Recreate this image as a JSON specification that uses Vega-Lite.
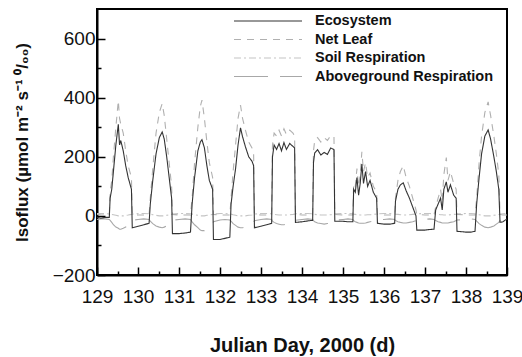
{
  "$schema": "https://vega.github.io/schema/vega-lite/v6.json",
  "width": 410,
  "height": 266,
  "autosize": "none",
  "padding": {"left": 97, "top": 9, "right": 15, "bottom": 82},
  "background": "white",
  "config": {
    "view": {"stroke": "black", "strokeWidth": 2},
    "font": "Liberation Sans",
    "axis": {
      "labelFont": "Liberation Sans",
      "labelFontSize": 19,
      "labelColor": "#111",
      "titleFont": "Liberation Sans",
      "titleFontWeight": "bold",
      "titleColor": "#111",
      "domainColor": "black",
      "domainWidth": 2,
      "tickColor": "black",
      "tickWidth": 1.5,
      "grid": false
    }
  },
  "data": {
    "values": [
      {"d":129.00,"E":-5,"L":5,"S":8,"A":-12},
      {"d":129.10,"E":-8,"L":3,"S":8,"A":-10},
      {"d":129.20,"E":-5,"L":3,"S":8,"A":-10},
      {"d":129.30,"E":-5,"L":3,"S":6,"A":-12},
      {"d":129.32,"E":60,"L":80,"S":6,"A":-15},
      {"d":129.36,"E":90,"L":120,"S":5,"A":-22},
      {"d":129.40,"E":150,"L":200,"S":4,"A":-30},
      {"d":129.46,"E":240,"L":300,"S":2,"A":-38},
      {"d":129.52,"E":310,"L":390,"S":0,"A":-42},
      {"d":129.55,"E":240,"L":330,"S":0,"A":-45},
      {"d":129.58,"E":255,"L":310,"S":0,"A":-45},
      {"d":129.64,"E":220,"L":280,"S":0,"A":-42},
      {"d":129.70,"E":170,"L":220,"S":2,"A":-38},
      {"d":129.76,"E":130,"L":170,"S":3,"A":-30},
      {"d":129.84,"E":90,"L":130,"S":5,"A":-22},
      {"d":129.86,"E":-40,"L":5,"S":6,"A":-15},
      {"d":130.00,"E":-35,"L":3,"S":8,"A":-12},
      {"d":130.14,"E":-30,"L":3,"S":8,"A":-10},
      {"d":130.27,"E":-25,"L":3,"S":7,"A":-12},
      {"d":130.30,"E":40,"L":60,"S":6,"A":-18},
      {"d":130.36,"E":120,"L":160,"S":4,"A":-26},
      {"d":130.44,"E":210,"L":280,"S":2,"A":-34},
      {"d":130.52,"E":265,"L":350,"S":0,"A":-38},
      {"d":130.59,"E":284,"L":380,"S":0,"A":-40},
      {"d":130.64,"E":260,"L":340,"S":0,"A":-38},
      {"d":130.70,"E":200,"L":260,"S":2,"A":-34},
      {"d":130.76,"E":130,"L":180,"S":3,"A":-28},
      {"d":130.82,"E":60,"L":100,"S":5,"A":-20},
      {"d":130.84,"E":-60,"L":5,"S":6,"A":-15},
      {"d":131.00,"E":-60,"L":3,"S":8,"A":-12},
      {"d":131.15,"E":-58,"L":3,"S":8,"A":-10},
      {"d":131.28,"E":-55,"L":3,"S":7,"A":-12},
      {"d":131.32,"E":40,"L":60,"S":6,"A":-20},
      {"d":131.38,"E":130,"L":180,"S":4,"A":-30},
      {"d":131.46,"E":220,"L":300,"S":2,"A":-40},
      {"d":131.52,"E":250,"L":370,"S":0,"A":-48},
      {"d":131.56,"E":258,"L":392,"S":0,"A":-50},
      {"d":131.62,"E":230,"L":330,"S":0,"A":-50},
      {"d":131.68,"E":170,"L":250,"S":2,"A":-45},
      {"d":131.74,"E":120,"L":180,"S":3,"A":-38},
      {"d":131.82,"E":90,"L":130,"S":5,"A":-28},
      {"d":131.84,"E":-80,"L":5,"S":6,"A":-20},
      {"d":132.00,"E":-80,"L":3,"S":8,"A":-14},
      {"d":132.12,"E":-76,"L":3,"S":8,"A":-12},
      {"d":132.24,"E":-72,"L":3,"S":7,"A":-14},
      {"d":132.27,"E":40,"L":60,"S":6,"A":-18},
      {"d":132.32,"E":100,"L":150,"S":4,"A":-26},
      {"d":132.38,"E":160,"L":240,"S":2,"A":-32},
      {"d":132.44,"E":240,"L":330,"S":0,"A":-38},
      {"d":132.50,"E":298,"L":375,"S":0,"A":-40},
      {"d":132.55,"E":268,"L":330,"S":0,"A":-40},
      {"d":132.62,"E":234,"L":290,"S":0,"A":-38},
      {"d":132.70,"E":200,"L":250,"S":2,"A":-32},
      {"d":132.78,"E":185,"L":230,"S":3,"A":-26},
      {"d":132.82,"E":170,"L":210,"S":4,"A":-22},
      {"d":132.84,"E":-40,"L":5,"S":6,"A":-16},
      {"d":133.00,"E":-35,"L":3,"S":8,"A":-12},
      {"d":133.14,"E":-30,"L":3,"S":8,"A":-10},
      {"d":133.26,"E":-25,"L":3,"S":7,"A":-12},
      {"d":133.28,"E":200,"L":240,"S":6,"A":-18},
      {"d":133.32,"E":240,"L":280,"S":5,"A":-22},
      {"d":133.38,"E":225,"L":270,"S":4,"A":-26},
      {"d":133.44,"E":245,"L":290,"S":3,"A":-28},
      {"d":133.50,"E":220,"L":270,"S":3,"A":-30},
      {"d":133.56,"E":248,"L":295,"S":3,"A":-30},
      {"d":133.62,"E":225,"L":275,"S":3,"A":-28},
      {"d":133.70,"E":245,"L":290,"S":4,"A":-26},
      {"d":133.78,"E":235,"L":280,"S":5,"A":-22},
      {"d":133.82,"E":230,"L":270,"S":6,"A":-20},
      {"d":133.84,"E":-22,"L":5,"S":7,"A":-15},
      {"d":134.00,"E":-20,"L":3,"S":8,"A":-12},
      {"d":134.14,"E":-17,"L":3,"S":8,"A":-10},
      {"d":134.26,"E":-15,"L":3,"S":7,"A":-12},
      {"d":134.28,"E":180,"L":220,"S":6,"A":-16},
      {"d":134.31,"E":213,"L":255,"S":5,"A":-20},
      {"d":134.38,"E":224,"L":265,"S":4,"A":-24},
      {"d":134.46,"E":206,"L":250,"S":3,"A":-26},
      {"d":134.54,"E":215,"L":265,"S":3,"A":-28},
      {"d":134.62,"E":208,"L":255,"S":3,"A":-26},
      {"d":134.70,"E":230,"L":272,"S":4,"A":-24},
      {"d":134.78,"E":224,"L":268,"S":5,"A":-20},
      {"d":134.80,"E":-18,"L":5,"S":7,"A":-15},
      {"d":135.00,"E":-18,"L":3,"S":8,"A":-12},
      {"d":135.12,"E":-20,"L":3,"S":8,"A":-10},
      {"d":135.24,"E":-20,"L":3,"S":7,"A":-12},
      {"d":135.26,"E":90,"L":110,"S":6,"A":-16},
      {"d":135.30,"E":80,"L":100,"S":5,"A":-20},
      {"d":135.34,"E":130,"L":160,"S":4,"A":-22},
      {"d":135.38,"E":70,"L":100,"S":4,"A":-24},
      {"d":135.42,"E":110,"L":140,"S":3,"A":-25},
      {"d":135.46,"E":175,"L":217,"S":3,"A":-25},
      {"d":135.50,"E":110,"L":150,"S":3,"A":-25},
      {"d":135.55,"E":150,"L":180,"S":3,"A":-24},
      {"d":135.60,"E":100,"L":130,"S":4,"A":-22},
      {"d":135.66,"E":120,"L":145,"S":4,"A":-20},
      {"d":135.74,"E":80,"L":100,"S":5,"A":-18},
      {"d":135.82,"E":60,"L":80,"S":6,"A":-16},
      {"d":135.84,"E":-25,"L":5,"S":7,"A":-14},
      {"d":136.00,"E":-28,"L":3,"S":8,"A":-12},
      {"d":136.14,"E":-28,"L":3,"S":8,"A":-10},
      {"d":136.26,"E":-25,"L":3,"S":7,"A":-12},
      {"d":136.28,"E":50,"L":60,"S":6,"A":-16},
      {"d":136.34,"E":90,"L":120,"S":5,"A":-20},
      {"d":136.40,"E":105,"L":150,"S":4,"A":-22},
      {"d":136.47,"E":112,"L":170,"S":3,"A":-24},
      {"d":136.54,"E":85,"L":130,"S":3,"A":-24},
      {"d":136.62,"E":60,"L":100,"S":4,"A":-22},
      {"d":136.70,"E":30,"L":60,"S":5,"A":-20},
      {"d":136.78,"E":0,"L":20,"S":6,"A":-16},
      {"d":136.80,"E":-48,"L":5,"S":7,"A":-14},
      {"d":137.00,"E":-48,"L":3,"S":8,"A":-12},
      {"d":137.12,"E":-46,"L":3,"S":8,"A":-10},
      {"d":137.22,"E":-45,"L":3,"S":7,"A":-12},
      {"d":137.26,"E":20,"L":30,"S":6,"A":-16},
      {"d":137.32,"E":40,"L":60,"S":5,"A":-20},
      {"d":137.38,"E":60,"L":90,"S":4,"A":-22},
      {"d":137.42,"E":20,"L":50,"S":4,"A":-24},
      {"d":137.46,"E":90,"L":140,"S":3,"A":-24},
      {"d":137.52,"E":115,"L":197,"S":3,"A":-24},
      {"d":137.56,"E":80,"L":120,"S":3,"A":-24},
      {"d":137.62,"E":105,"L":150,"S":4,"A":-22},
      {"d":137.70,"E":70,"L":110,"S":5,"A":-20},
      {"d":137.76,"E":60,"L":90,"S":6,"A":-16},
      {"d":137.78,"E":-52,"L":5,"S":7,"A":-14},
      {"d":138.00,"E":-55,"L":3,"S":8,"A":-12},
      {"d":138.12,"E":-55,"L":3,"S":8,"A":-10},
      {"d":138.22,"E":-52,"L":3,"S":7,"A":-12},
      {"d":138.26,"E":40,"L":60,"S":6,"A":-18},
      {"d":138.32,"E":130,"L":180,"S":4,"A":-26},
      {"d":138.38,"E":210,"L":270,"S":2,"A":-32},
      {"d":138.46,"E":270,"L":350,"S":0,"A":-38},
      {"d":138.54,"E":291,"L":386,"S":0,"A":-40},
      {"d":138.60,"E":260,"L":340,"S":0,"A":-38},
      {"d":138.68,"E":200,"L":270,"S":2,"A":-34},
      {"d":138.74,"E":150,"L":210,"S":3,"A":-28},
      {"d":138.80,"E":90,"L":140,"S":5,"A":-22},
      {"d":138.83,"E":-22,"L":5,"S":6,"A":-16},
      {"d":138.90,"E":-20,"L":3,"S":7,"A":-14},
      {"d":139.00,"E":-10,"L":3,"S":8,"A":-12}
    ]
  },
  "transform": [
    {"fold": ["A", "S", "L", "E"], "as": ["s", "v"]}
  ],
  "mark": {"type": "line", "strokeWidth": 1.1, "clip": true},
  "encoding": {
    "x": {
      "field": "d",
      "type": "quantitative",
      "scale": {"domain": [129, 139], "nice": false, "zero": false},
      "axis": {
        "title": "Julian Day, 2000 (d)",
        "titleFontSize": 20,
        "values": [129,129.5,130,130.5,131,131.5,132,132.5,133,133.5,134,134.5,135,135.5,136,136.5,137,137.5,138,138.5,139],
        "labelExpr": "datum.value % 1 === 0 ? format(datum.value, 'd') : ''",
        "tickSize": {"condition": {"test": "datum.value % 1 === 0", "value": -8}, "value": -4},
        "labelPadding": 20,
        "labelFlush": false,
        "labelOverlap": false,
        "titleY": 70,
        "titleBaseline": "middle"
      }
    },
    "y": {
      "field": "v",
      "type": "quantitative",
      "scale": {"domain": [-200, 700], "nice": false, "zero": false},
      "axis": {
        "title": "Isoflux (µmol m⁻² s⁻¹ ⁰/₀₀)",
        "titleFontSize": 17,
        "values": [-200,-100,0,100,200,300,400,500,600],
        "labelExpr": "datum.value % 200 === 0 ? datum.label : ''",
        "tickSize": {"condition": {"test": "datum.value % 200 === 0", "value": -8}, "value": -4},
        "labelPadding": 10,
        "labelOverlap": false,
        "titleX": -75,
        "titleBaseline": "middle"
      }
    },
    "color": {
      "field": "s",
      "type": "nominal",
      "scale": {"domain": ["E", "L", "S", "A"], "range": ["#333333", "#b0b0b0", "#c4c4c4", "#a8a8a8"]},
      "legend": {
        "orient": "none",
        "legendX": 136,
        "legendY": 4,
        "title": null,
        "symbolType": "stroke",
        "symbolSize": 4624,
        "symbolStrokeWidth": 1.2,
        "clipHeight": 16,
        "rowPadding": 2.5,
        "labelOffset": 12,
        "labelLimit": 400,
        "labelFont": "Liberation Sans",
        "labelFontSize": 14.5,
        "labelFontWeight": "bold",
        "labelColor": "#111",
        "padding": 0,
        "labelExpr": "{'E':'Ecosystem','L':'Net Leaf','S':'Soil Respiration','A':'Aboveground Respiration'}[datum.label]"
      }
    },
    "strokeDash": {
      "field": "s",
      "type": "nominal",
      "scale": {"domain": ["E", "L", "S", "A"], "range": [[1, 0], [7, 6], [7, 3, 2, 3], [34, 12]]},
      "legend": null
    }
  }
}
